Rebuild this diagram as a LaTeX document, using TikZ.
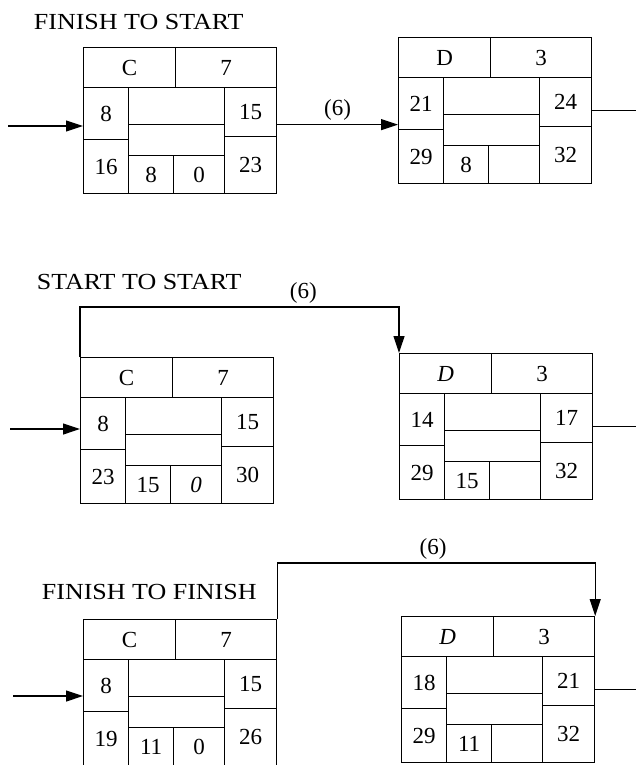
\documentclass[tikz,border=0pt]{standalone}
\usepackage{fontspec}
\setmainfont{Liberation Serif}
\newfontfamily\titlefont[FakeStretch=1.13]{Liberation Serif}
\usepackage{tikz}
\usetikzlibrary{arrows.meta}

\begin{document}
\begin{tikzpicture}[x=1pt, y=-1pt, line width=1.2pt, >={Triangle[length=17pt,width=11pt]},
        every node/.style={font=\fontsize{23}{26}\selectfont},
        cell/.style={draw, inner sep=0pt, anchor=north west},
        title/.style={font=\titlefont\fontsize{23}{26}\selectfont, anchor=base west}]
        \useasboundingbox (0,0) rectangle (636,765);

        % activity boxes: name / corner / activity / duration / ES EF LS LF / TF FF
        \foreach \nm/\bx/\by/\act/\dur/\vES/\vEF/\vLS/\vLF/\vTF/\vFF in {
            c1/83/47/C/7/8/15/16/23/8/0,
            d1/398/37/D/3/21/24/29/32/8/{},
            c2/80/357/C/7/8/15/23/30/15/\textit{0},
            d2/399/353/\textit{D}/3/14/17/29/32/15/{},
            c3/83/619/C/7/8/15/19/26/11/0,
            d3/401/616/\textit{D}/3/18/21/29/32/11/{}} {
            \begin{scope}[shift={(\bx,\by)}]
                \node[anchor=north west, inner sep=0pt, minimum width=193pt, minimum height=146pt] (\nm) at (0,0) {};
                \node[cell, minimum width=92pt, minimum height=40pt] (\nm-act) at (0,0) {\act};
                \node[cell, minimum width=101pt, minimum height=40pt] (\nm-dur) at (92,0) {\dur};
                \node[cell, minimum width=45pt, minimum height=52pt] (\nm-es) at (0,40) {\vES};
                \node[cell, minimum width=45pt, minimum height=54pt] (\nm-ls) at (0,92) {\vLS};
                \node[cell, minimum width=52pt, minimum height=49pt] (\nm-ef) at (141,40) {\vEF};
                \node[cell, minimum width=52pt, minimum height=57pt] (\nm-lf) at (141,89) {\vLF};
                \node[cell, minimum width=96pt, minimum height=37pt] (\nm-up) at (45,40) {};
                \node[cell, minimum width=96pt, minimum height=31pt] (\nm-mid) at (45,77) {};
                \node[cell, minimum width=45pt, minimum height=38pt] (\nm-tf) at (45,108) {\vTF};
                \node[cell, minimum width=51pt, minimum height=38pt] (\nm-ff) at (90,108) {\vFF};
            \end{scope}
        }

        \coordinate (edge) at (636,0);

        % Finish to start
        \node[title] (fstitle) at (30,30) {FINISH TO START};
        \coordinate (in1) at (8,126);
        \draw[->] (in1) -- (in1 -| c1.west);
        \draw[->] ([yshift=-4pt]c1.east) -- ([yshift=-4pt]c1.east -| d1.west) node[midway, above] {(6)};
        \draw (d1.east) -- (d1.east -| edge);

        % Start to start
        \node[title] (sstitle) at (33,289) {START TO START};
        \coordinate (in2) at (10,429);
        \draw[->] (in2) -- (in2 -| c2.west);
        \draw[->] (c2.north west) -- ++(0,-50) -| (d2.north west) node[pos=0.35, above] {(6)};
        \draw (d2.east) -- (d2.east -| edge);

        % Finish to finish
        \node[title] (fftitle) at (38,599) {FINISH TO FINISH};
        \coordinate (in3) at (13,696);
        \draw[->] (in3) -- (in3 -| c3.west);
        \draw[->] (c3.north east) -- ++(0,-56) -| (d3.north east) node[pos=0.245, above] {(6)};
        \draw (d3.east) -- (d3.east -| edge);
    \end{tikzpicture}
\end{document}
